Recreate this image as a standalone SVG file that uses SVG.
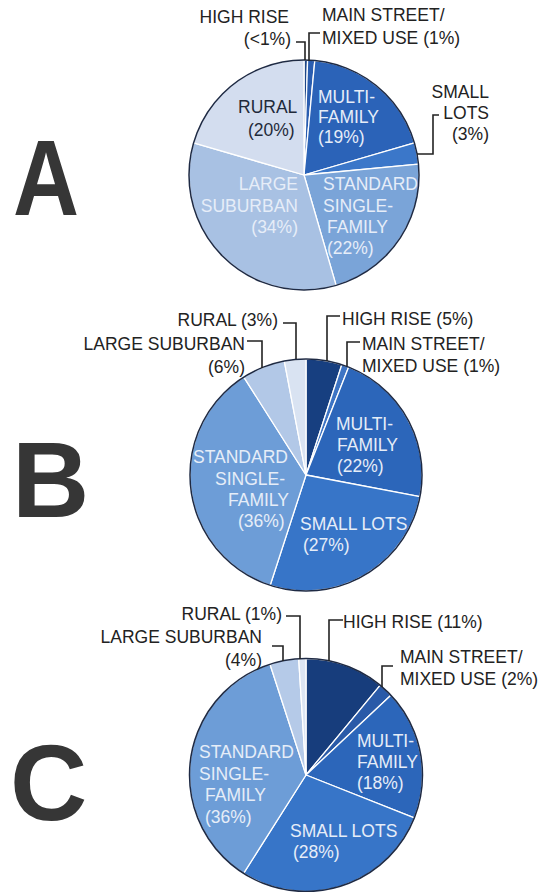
<svg xmlns="http://www.w3.org/2000/svg" width="541" height="892" viewBox="0 0 541 892">
<style>
.lbl{font-family:"Liberation Sans",Arial,sans-serif;font-size:17.5px;fill:#222}
.in{font-family:"Liberation Sans",Arial,sans-serif;font-size:17.5px;fill:#e6edf8}
.dk{fill:#1f2a3a}
.big{font-family:"Liberation Sans",Arial,sans-serif;font-size:107px;font-weight:bold;fill:#363636}
.sl{stroke:#ffffff;stroke-width:1.3;stroke-linejoin:round}
.rim{fill:none;stroke:#1e2a44;stroke-width:1.5}
.ld{fill:none;stroke:#222;stroke-width:1.6}
.end{text-anchor:end}
</style>
<rect width="541" height="892" fill="#ffffff"/>

<g id="letters">
<text class="big" x="13" y="215" textLength="66" lengthAdjust="spacingAndGlyphs">A</text>
<text class="big" x="12" y="517">B</text>
<text class="big" x="10" y="820">C</text>
</g>

<g id="pieA">
<path class="sl" fill="#1d4688" d="M304,175 L304,60 A115,115 0 0,1 307.6,60.1 Z"/>
<path class="sl" fill="#2a5db0" d="M304,175 L307.6,60.1 A115,115 0 0,1 314.8,60.5 Z"/>
<path class="sl" fill="#2b63b8" d="M304,175 L314.8,60.5 A115,115 0 0,1 414.4,142.9 Z"/>
<path class="sl" fill="#3b77c9" d="M304,175 L414.4,142.9 A115,115 0 0,1 418.5,164.2 Z"/>
<path class="sl" fill="#7aa4d8" d="M304,175 L418.5,164.2 A115,115 0 0,1 336.1,285.4 Z"/>
<path class="sl" fill="#a8c1e3" d="M304,175 L336.1,285.4 A115,115 0 0,1 193.6,142.9 Z"/>
<path class="sl" fill="#d3ddef" d="M304,175 L193.6,142.9 A115,115 0 0,1 304,60 Z"/>
<circle class="rim" cx="304" cy="175" r="115"/>
</g>

<g id="pieB">
<path class="sl" fill="#173f80" d="M306,475 L306,359 A116,116 0 0,1 341.8,364.7 Z"/>
<path class="sl" fill="#3d74c4" d="M306,475 L341.8,364.7 A116,116 0 0,1 348.7,367.1 Z"/>
<path class="sl" fill="#2c66ba" d="M306,475 L348.7,367.1 A116,116 0 0,1 419.9,496.7 Z"/>
<path class="sl" fill="#3775c8" d="M306,475 L419.9,496.7 A116,116 0 0,1 270.2,585.3 Z"/>
<path class="sl" fill="#6d9dd7" d="M306,475 L270.2,585.3 A116,116 0 0,1 243.8,377.1 Z"/>
<path class="sl" fill="#b2c8e7" d="M306,475 L243.8,377.1 A116,116 0 0,1 284.3,361.1 Z"/>
<path class="sl" fill="#d9e3f2" d="M306,475 L284.3,361.1 A116,116 0 0,1 306,359 Z"/>
<circle class="rim" cx="306" cy="475" r="116"/>
</g>

<g id="pieC">
<path class="sl" fill="#173d7c" d="M306,775 L306,658.5 A116.5,116.5 0 0,1 380.3,685.2 Z"/>
<path class="sl" fill="#2a5aa8" d="M306,775 L380.3,685.2 A116.5,116.5 0 0,1 390.9,695.3 Z"/>
<path class="sl" fill="#2c66ba" d="M306,775 L390.9,695.3 A116.5,116.5 0 0,1 414.3,817.9 Z"/>
<path class="sl" fill="#3775c8" d="M306,775 L414.3,817.9 A116.5,116.5 0 0,1 243.6,873.4 Z"/>
<path class="sl" fill="#6d9dd7" d="M306,775 L243.6,873.4 A116.5,116.5 0 0,1 270.0,664.2 Z"/>
<path class="sl" fill="#b5cae8" d="M306,775 L270.0,664.2 A116.5,116.5 0 0,1 298.7,658.7 Z"/>
<path class="sl" fill="#dce5f3" d="M306,775 L298.7,658.7 A116.5,116.5 0 0,1 306,658.5 Z"/>
<circle class="rim" cx="306" cy="775" r="116.5"/>
</g>

<g id="connectors">
<path class="ld" d="M296,42 H305 V60"/>
<path class="ld" d="M320,33 H309 V61"/>
<path class="ld" d="M439,115 H433 V154 H417"/>
<path class="ld" d="M283,323 H296 V359"/>
<path class="ld" d="M247,341 H262 V368"/>
<path class="ld" d="M340,316 H327 V361"/>
<path class="ld" d="M360,342 H347 V366"/>
<path class="ld" d="M286,616 H300 V659"/>
<path class="ld" d="M272,646 H283 V661"/>
<path class="ld" d="M343,620 H329 V661"/>
<path class="ld" d="M393,666 H382 V687"/>
</g>

<g id="labelsA">
<text class="lbl end" x="289" y="23">HIGH RISE</text>
<text class="lbl end" x="291" y="45">(&lt;1%)</text>
<text class="lbl" x="322" y="21">MAIN STREET/</text>
<text class="lbl" x="322" y="44">MIXED USE (1%)</text>
<text class="lbl end" x="489" y="98">SMALL</text>
<text class="lbl end" x="489" y="119">LOTS</text>
<text class="lbl end" x="489" y="140">(3%)</text>
<text class="in dk" x="238" y="113">RURAL</text>
<text class="in dk" x="248" y="136">(20%)</text>
<text class="in" x="318" y="103">MULTI-</text>
<text class="in" x="318" y="123">FAMILY</text>
<text class="in" x="318" y="143">(19%)</text>
<text class="in end" x="298" y="190">LARGE</text>
<text class="in end" x="298" y="212">SUBURBAN</text>
<text class="in end" x="298" y="233">(34%)</text>
<text class="in" x="323" y="190">STANDARD</text>
<text class="in" x="323" y="212">SINGLE-</text>
<text class="in" x="327" y="233">FAMILY</text>
<text class="in" x="327" y="254">(22%)</text>
</g>

<g id="labelsB">
<text class="lbl end" x="278" y="326">RURAL (3%)</text>
<text class="lbl end" x="245" y="350">LARGE SUBURBAN</text>
<text class="lbl end" x="245" y="373">(6%)</text>
<text class="lbl" x="342" y="325">HIGH RISE (5%)</text>
<text class="lbl" x="362" y="350">MAIN STREET/</text>
<text class="lbl" x="362" y="372">MIXED USE (1%)</text>
<text class="in" x="336" y="430">MULTI-</text>
<text class="in" x="337" y="451">FAMILY</text>
<text class="in" x="337" y="472">(22%)</text>
<text class="in" x="193" y="463">STANDARD</text>
<text class="in" x="215" y="485">SINGLE-</text>
<text class="in" x="228" y="506">FAMILY</text>
<text class="in" x="238" y="527">(36%)</text>
<text class="in" x="300" y="530">SMALL LOTS</text>
<text class="in" x="303" y="551">(27%)</text>
</g>

<g id="labelsC">
<text class="lbl end" x="282" y="620">RURAL (1%)</text>
<text class="lbl end" x="262" y="643">LARGE SUBURBAN</text>
<text class="lbl end" x="262" y="666">(4%)</text>
<text class="lbl" x="343" y="628">HIGH RISE (11%)</text>
<text class="lbl" x="400" y="663">MAIN STREET/</text>
<text class="lbl" x="400" y="685">MIXED USE (2%)</text>
<text class="in" x="357" y="747">MULTI-</text>
<text class="in" x="357" y="768">FAMILY</text>
<text class="in" x="357" y="789">(18%)</text>
<text class="in" x="199" y="758">STANDARD</text>
<text class="in" x="199" y="780">SINGLE-</text>
<text class="in" x="205" y="801">FAMILY</text>
<text class="in" x="205" y="823">(36%)</text>
<text class="in" x="290" y="837">SMALL LOTS</text>
<text class="in" x="293" y="858">(28%)</text>
</g>
</svg>
